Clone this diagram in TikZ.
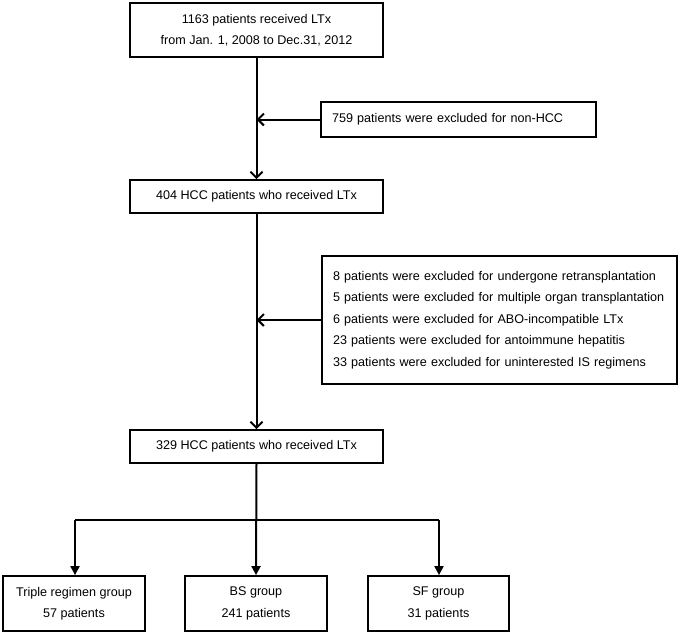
\documentclass[tikz,border=0pt]{standalone}
\usepackage{fontspec}
\setmainfont{Liberation Sans}
\usetikzlibrary{arrows.meta}
\begin{document}
\begin{tikzpicture}[x=1pt,y=-1pt,
  box/.style={draw=black,line width=1.8pt,inner sep=0pt,align=center,
    font=\fontsize{12.6}{21.5}\selectfont},
  exbox/.style={draw=black,line width=1.8pt,inner ysep=0pt,inner xsep=11pt,align=left,
    font=\fontsize{12.6}{21.5}\selectfont},
  conn/.style={line width=2pt,-{Straight Barb[length=6pt,width=12pt]}},
  bconn/.style={line width=2pt,-{Triangle[length=9pt,width=9pt]}}]
\useasboundingbox (0,0) rectangle (680,635);
\node[box,minimum width=253pt,minimum height=54pt] (top) at (256.5,30) {1163 patients received LTx\\from Jan. 1, 2008 to Dec.31, 2012};
\node[exbox,minimum width=275pt,minimum height=35pt,text width=253pt] (ex1) at (458.5,119.5) {759 patients were excluded for non-HCC};
\node[box,minimum width=253pt,minimum height=33pt] (b2) at (256.5,196.5) {404 HCC patients who received LTx};
\node[exbox,minimum width=355pt,minimum height=128pt,text width=333pt] (ex2) at (499.5,320) {8 patients were excluded for undergone retransplantation\\5 patients were excluded for multiple organ transplantation\\6 patients were excluded for ABO-incompatible LTx\\23 patients were excluded for antoimmune hepatitis\\33 patients were excluded for uninterested IS regimens};
\node[box,minimum width=253pt,minimum height=33pt] (b3) at (256.5,446.5) {329 HCC patients who received LTx};
\node[box,minimum width=142pt,minimum height=55pt] (g1) at (74,603.5) {Triple regimen group\\57 patients};
\node[box,minimum width=142pt,minimum height=55pt] (g2) at (256,603.5) {BS group\\241 patients};
\node[box,minimum width=141pt,minimum height=55pt] (g3) at (438.5,603.5) {SF group\\31 patients};
\coordinate (m1) at (256.5,119.5);
\coordinate (m2) at (256.5,320);
\coordinate (jl) at (75,520);
\coordinate (jr) at (439,520);
\draw[conn] (top.south) -- (b2.north);
\draw[conn] (ex1.west) -- (m1);
\draw[conn] (b2.south) -- (b3.north);
\draw[conn] (ex2.west) -- (m2);
\draw[bconn] (b3.south) -- (g2.north);
\draw[line width=2pt] (jl) -- (jr);
\draw[bconn] (jl) -- (jl |- g1.north);
\draw[bconn] (jr) -- (jr |- g3.north);
\end{tikzpicture}
\end{document}
